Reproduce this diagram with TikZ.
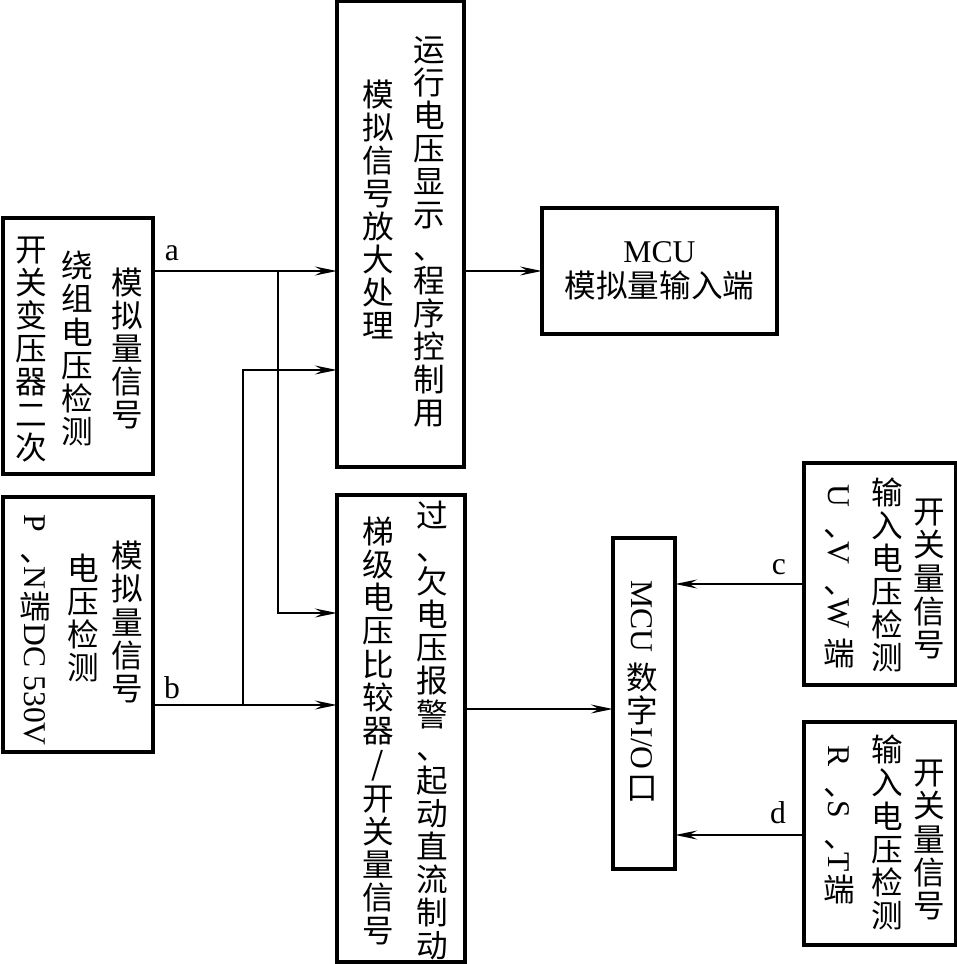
\documentclass[tikz,border=0pt]{standalone}
\usepackage{fontspec}
\setmainfont{Liberation Serif}
\newfontfamily\cjk{Noto Sans CJK SC}
\usepackage{graphicx}
\usetikzlibrary{arrows.meta}

% one character per row, Latin runs turned sideways
\def\rowstrut{\vrule height .88em depth .12em width 0pt}
\newcommand{\lat}[1]{\rotatebox{-90}{\rmfamily #1}\def\rowstrut{}}
\newcommand{\vtext}[1]{\vbox{\baselineskip=0pt\lineskiplimit=0pt\lineskip=0.8pt
  \foreach \x in {#1}{\hbox to 1.2em{\hss\x\rowstrut\hss}}}}

\begin{document}
\begin{tikzpicture}[x=0.2mm, y=-0.2mm,
  box/.style={draw, line width=1.8pt, inner sep=0pt},
  vcol/.style={inner sep=0pt, font=\cjk\fontsize{18pt}{20pt}\selectfont},
  lbl/.style={inner sep=0pt, font=\fontsize{18pt}{20pt}\selectfont},
  arr/.style={line width=0.8pt, shorten >=-0.8pt,
    -{Stealth[length=4.4mm, width=1.8mm, inset=1.6mm]}}]
\useasboundingbox (0,0) rectangle (957,964);
%\draw[black, thick] (0,0) rectangle (957,964);
\node[box, minimum width=30mm, minimum height=51.2mm] (A) at (78,346) {};
\node[vcol] (A1) at (31,348.5) {\vtext{开,关,变,压,器,二,次}};
\node[vcol] (A2) at (77,348.5) {\vtext{绕,组,电,压,检,测}};
\node[vcol] (A3) at (127,348.5) {\vtext{模,拟,量,信,号}};
\node[box, minimum width=30mm, minimum height=51mm] (B) at (78,624.5) {};
\node[vcol] (B1) at (35,630) {\vtext{\lat{P},、,\lat{N},端,\lat{DC 530V}}};
\node[vcol] (B2) at (83,618) {\vtext{电,压,检,测}};
\node[vcol] (B3) at (127,622) {\vtext{模,拟,量,信,号}};
\node[box, minimum width=25.4mm, minimum height=93.2mm] (C) at (400.5,234) {};
\node[vcol] (C1) at (378,210) {\vtext{模,拟,信,号,放,大,处,理}};
\node[vcol] (C2) at (429,231) {\vtext{运,行,电,压,显,示,、,程,序,控,制,用}};
\node[box, minimum width=47mm, minimum height=25.2mm, align=center,
  font=\fontsize{18pt}{20pt}\selectfont] (D) at (659.5,271) {MCU\\{\cjk 模拟量输入端}};
\node[box, minimum width=25.6mm, minimum height=93.4mm] (E) at (401,728.5) {};
\node[vcol] (E1) at (378,731) {\vtext{梯,级,电,压,比,较,器,/,开,关,量,信,号}};
\node[vcol] (E2) at (432,730.5) {\vtext{过,、,欠,电,压,报,警,、,起,动,直,流,制,动}};
\node[box, minimum width=12.4mm, minimum height=66.2mm] (F) at (644,703.5) {};
\node[vcol] (F1) at (642,691.5) {\vtext{\lat{MCU~},数,字,\lat{I/O},口}};
\node[box, minimum width=30.4mm, minimum height=44.4mm] (G) at (880,574) {};
\node[vcol] (G1) at (839,577) {\vtext{\lat{U},、,\lat{V},、,\lat{W~},端}};
\node[vcol] (G2) at (887,575) {\vtext{输,入,电,压,检,测}};
\node[vcol] (G3) at (929,578) {\vtext{开,关,量,信,号}};
\node[box, minimum width=30.4mm, minimum height=44.6mm] (H) at (880,833.5) {};
\node[vcol] (H1) at (839,825) {\vtext{\lat{R},、,\lat{S},、,\lat{T},端}};
\node[vcol] (H2) at (887,832.5) {\vtext{输,入,电,压,检,测}};
\node[vcol] (H3) at (929,839) {\vtext{开,关,量,信,号}};
\coordinate (a1) at (278,271);
\coordinate (a2) at (278,613);
\coordinate (b1) at (243,705);
\coordinate (b2) at (243,370);
\coordinate (e1) at (500,709);
\coordinate (c1) at (700,584);
\coordinate (d1) at (700,835);
\draw[arr] (A.east |- a1) -- (C.west |- a1);
\draw[arr] (a1) -- (a2) -- (E.west |- a2);
\draw[arr] (B.east |- b1) -- (E.west |- b1);
\draw[arr] (b1) -- (b2) -- (C.west |- b2);
\draw[arr] (C.east |- D.west) -- (D.west);
\draw[arr] (E.east |- e1) -- (F.west |- e1);
\draw[arr] (G.west |- c1) -- (F.east |- c1);
\draw[arr] (H.west |- d1) -- (F.east |- d1);
\node[lbl] (la) at (172,253) {a};
\node[lbl] (lb) at (172,688) {b};
\node[lbl] (lc) at (779,567) {c};
\node[lbl] (ld) at (778,813) {d};
\end{tikzpicture}
\end{document}
